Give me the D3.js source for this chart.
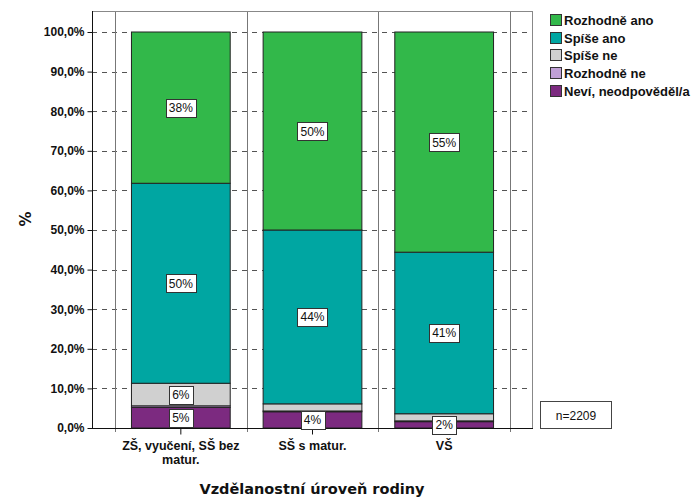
<!DOCTYPE html>
<html>
<head>
<meta charset="utf-8">
<script src="https://cdn.jsdelivr.net/npm/d3@7/dist/d3.min.js"></script>
<style>
  html, body { margin: 0; padding: 0; background: #fff; }
  svg { display: block; }
</style>
</head>
<body>
<svg id="chart" width="695" height="497"></svg>
<script>
// ---- data ----
const categories = ["ZŠ, vyučení, SŠ bez matur.", "SŠ s matur.", "VŠ"];
const categoryLines = [["ZŠ, vyučení, SŠ bez", "matur."], ["SŠ s matur."], ["VŠ"]];
const seriesNames = ["Neví, neodpověděl/a", "Rozhodně ne", "Spíše ne", "Spíše ano", "Rozhodně ano"];
const neviValues = [5.2, 4.1, 1.6];
const rozhodneNeValues = [0.4, 0.2, 0.2];
const spiseNeValues = [5.7, 1.8, 1.8];
const spiseAnoValues = [50.5, 43.9, 40.8];
const rozhodneAnoValues = [38.2, 50.0, 55.6];
const neviLabels = ["5%", "4%", "2%"];
const rozhodneNeLabels = [null, null, null];
const spiseNeLabels = ["6%", null, null];
const spiseAnoLabels = ["50%", "44%", "41%"];
const rozhodneAnoLabels = ["38%", "50%", "55%"];
const yTicks = [0, 10, 20, 30, 40, 50, 60, 70, 80, 90, 100];
const legendOrder = ["Rozhodně ano", "Spíše ano", "Spíše ne", "Rozhodně ne", "Neví, neodpověděl/a"];
const nText = "n=2209";
const xTitle = "Vzdělanostní úroveň rodiny";
const yTitle = "%";

const colors = {
  "Rozhodně ano": "#32b84a",
  "Spíše ano": "#00a6a2",
  "Spíše ne": "#d0d0d0",
  "Rozhodně ne": "#c0a0d6",
  "Neví, neodpověděl/a": "#7c2a80"
};

const seriesValues = [neviValues, rozhodneNeValues, spiseNeValues, spiseAnoValues, rozhodneAnoValues];
const seriesLabels = [neviLabels, rozhodneNeLabels, spiseNeLabels, spiseAnoLabels, rozhodneAnoLabels];

// ---- layout ----
const svg = d3.select("#chart");
const frame = { left: 92, right: 532, top: 11, bottom: 428 };

const y = d3.scaleLinear().domain([0, 100]).range([428, 32]);
const x = d3.scaleBand().domain(categories).range([115, 510]).paddingInner(0.25).paddingOuter(0.125);

// stacked data
const rows = categories.map((c, i) => {
  const r = { cat: c };
  seriesNames.forEach((s, k) => r[s] = seriesValues[k][i]);
  return r;
});
const stack = d3.stack().keys(seriesNames)(rows);

// gridlines
svg.append("g").selectAll("line").data(yTicks.filter(t => t > 0)).join("line")
  .attr("x1", frame.left).attr("x2", frame.right)
  .attr("y1", d => Math.round(y(d)) + 0.5).attr("y2", d => Math.round(y(d)) + 0.5)
  .attr("stroke", "#555").attr("stroke-width", 1)
  .attr("stroke-dasharray", "5,5");

// band separators
const half = x.step() * x.paddingInner() / 2;
const seps = categories.map(c => x(c) - half).concat([x(categories[categories.length - 1]) + x.bandwidth() + half]);
svg.append("g").selectAll("line").data(seps).join("line")
  .attr("x1", d => Math.round(d) + 0.5).attr("x2", d => Math.round(d) + 0.5)
  .attr("y1", frame.top).attr("y2", 432)
  .attr("stroke", "#777").attr("stroke-width", 1);

// frame
svg.append("line").attr("x1", frame.left).attr("x2", frame.right + 0.5)
  .attr("y1", frame.top + 0.5).attr("y2", frame.top + 0.5).attr("stroke", "#888");
svg.append("line").attr("x1", frame.right + 0.5).attr("x2", frame.right + 0.5)
  .attr("y1", frame.top).attr("y2", frame.bottom).attr("stroke", "#888");

// bars
const g = svg.append("g");
stack.forEach((layer, k) => {
  g.append("g").selectAll("rect").data(layer).join("rect")
    .attr("x", (d, i) => x(categories[i]))
    .attr("width", x.bandwidth())
    .attr("y", d => y(d[1]))
    .attr("height", d => y(d[0]) - y(d[1]))
    .attr("fill", colors[seriesNames[k]])
    .attr("stroke", "#222")
    .attr("stroke-width", 1);
});

// axes
const yAxis = d3.axisLeft(y).tickValues(yTicks).tickSize(5).tickPadding(3)
  .tickFormat(d => d3.format(".1f")(d).replace(".", ",") + "%");
const ya = svg.append("g").attr("transform", `translate(${frame.left + 0.5},0)`).call(yAxis);
ya.select(".domain").attr("d", `M0,${frame.top}V${frame.bottom}`).attr("stroke", "#111");
ya.selectAll("text").attr("font-family", "Arial, 'Liberation Sans', sans-serif")
  .attr("font-weight", "bold").attr("font-size", 12).attr("fill", "#111");
ya.selectAll(".tick line").attr("stroke", "#111");

const xAxis = d3.axisBottom(x).tickSize(6).tickFormat("");
const xa = svg.append("g").attr("transform", `translate(0,${frame.bottom + 0.5})`).call(xAxis);
xa.select(".domain").attr("d", `M${frame.left},0H${frame.right + 1}`).attr("stroke", "#111");
xa.selectAll(".tick line").attr("stroke", "#111");

// x labels
categories.forEach((c, i) => {
  categoryLines[i].forEach((ln, j) => {
    svg.append("text")
      .attr("x", x(c) + x.bandwidth() / 2)
      .attr("y", 450 + j * 14)
      .attr("text-anchor", "middle")
      .attr("font-family", "Arial, 'Liberation Sans', sans-serif")
      .attr("font-weight", "bold").attr("font-size", 12.5).attr("fill", "#111")
      .text(ln);
  });
});

// segment labels
const lg = svg.append("g");
stack.forEach((layer, k) => {
  layer.forEach((d, i) => {
    const lab = seriesLabels[k][i];
    if (!lab) return;
    const cx = x(categories[i]) + x.bandwidth() / 2;
    const cy = (y(d[0]) + y(d[1])) / 2;
    const grp = lg.append("g");
    const txt = grp.append("text").attr("x", cx).attr("y", cy + 4.5)
      .attr("text-anchor", "middle")
      .attr("font-family", "Arial, 'Liberation Sans', sans-serif")
      .attr("font-size", 12).attr("fill", "#111").text(lab);
    const bb = txt.node().getBBox();
    grp.insert("rect", "text")
      .attr("x", Math.round(cx - bb.width / 2 - 3) + 0.5)
      .attr("y", Math.round(cy - 9) + 0.5)
      .attr("width", Math.round(bb.width + 6))
      .attr("height", 18)
      .attr("fill", "#fff").attr("stroke", "#333").attr("stroke-width", 1);
  });
});

// legend
const leg = svg.append("g");
legendOrder.forEach((name, i) => {
  const yy = 14 + i * 17.7;
  leg.append("rect").attr("x", 550.5).attr("y", Math.round(yy) + 0.5).attr("width", 11).attr("height", 11)
    .attr("fill", colors[name]).attr("stroke", "#333");
  leg.append("text").attr("x", 564).attr("y", Math.round(yy) + 10.5)
    .attr("font-family", "Arial, 'Liberation Sans', sans-serif")
    .attr("font-weight", "bold").attr("font-size", 13).attr("fill", "#111").text(name);
});

// n box
svg.append("rect").attr("x", 540.5).attr("y", 401.5).attr("width", 71).attr("height", 27)
  .attr("fill", "#fff").attr("stroke", "#444");
svg.append("text").attr("x", 576).attr("y", 419.5).attr("text-anchor", "middle")
  .attr("font-family", "Arial, 'Liberation Sans', sans-serif")
  .attr("font-size", 12).attr("fill", "#111").text(nText);

// titles
svg.append("text").attr("x", (frame.left + frame.right) / 2).attr("y", 494)
  .attr("text-anchor", "middle")
  .attr("font-family", "'DejaVu Sans', sans-serif")
  .attr("font-weight", "bold").attr("font-size", 14.5).attr("fill", "#111").text(xTitle);
svg.append("text").attr("transform", "translate(31,219) rotate(-90)")
  .attr("text-anchor", "middle")
  .attr("font-family", "'DejaVu Sans', sans-serif")
  .attr("font-weight", "bold").attr("font-size", 15).attr("fill", "#111").text(yTitle);
</script>
</body>
</html>
